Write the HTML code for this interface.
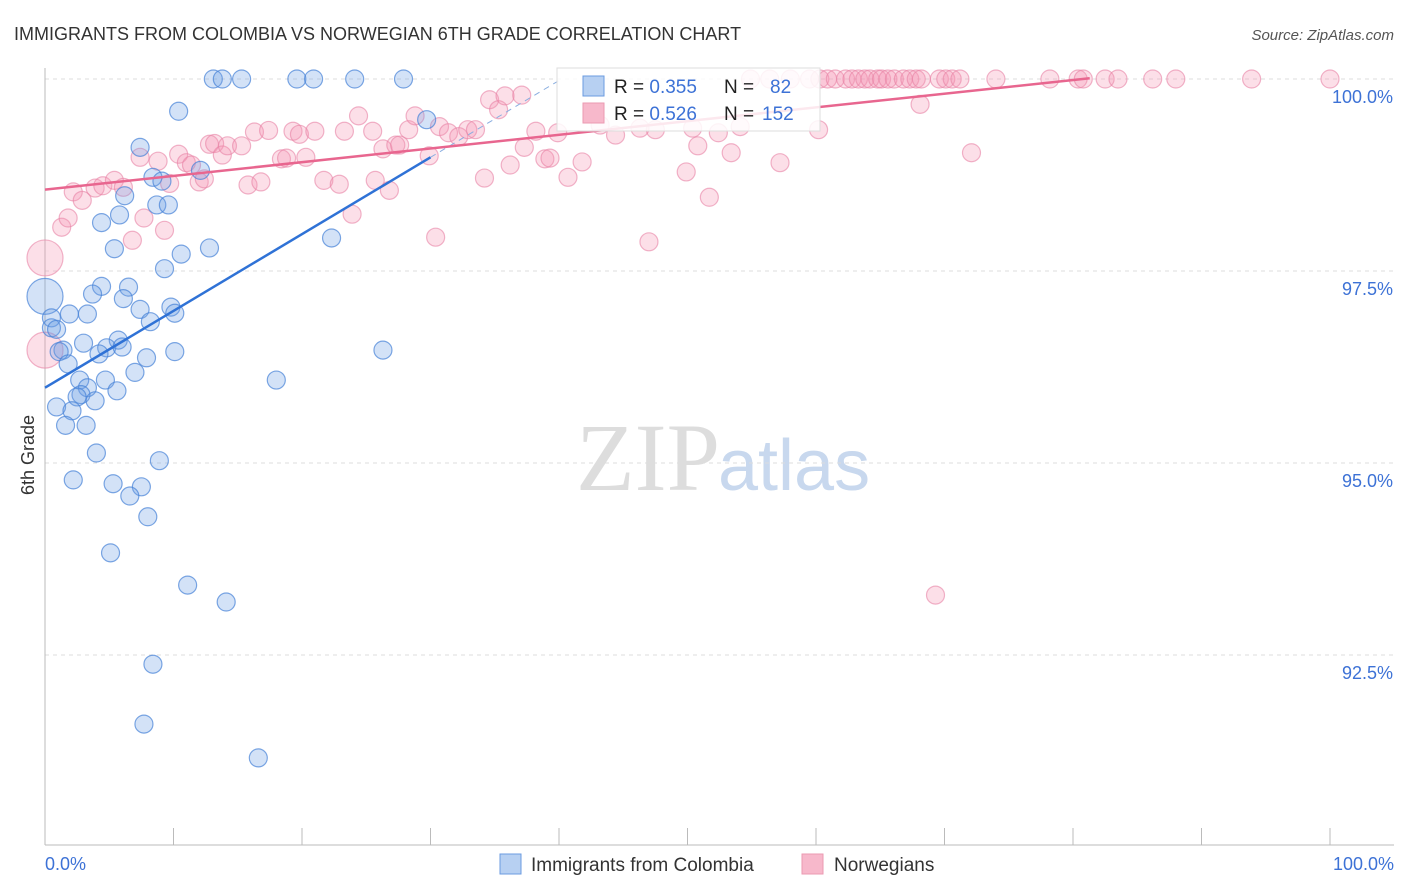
<!DOCTYPE html>
<html><head><meta charset="utf-8"><style>
body{margin:0;background:#fff;font-family:"Liberation Sans",sans-serif;}
svg{display:block}
</style></head><body>
<svg id="c" width="1406" height="892" viewBox="0 0 1406 892">
<text x="14" y="40" font-size="18" fill="#333">IMMIGRANTS FROM COLOMBIA VS NORWEGIAN 6TH GRADE CORRELATION CHART</text>
<text x="1394" y="40" font-size="15" fill="#555" font-style="italic" text-anchor="end">Source: ZipAtlas.com</text>
<text x="720" y="490" font-size="96" fill="#ddd" text-anchor="end" font-family="Liberation Serif">ZIP</text>
<text x="718" y="490" font-size="72" fill="#c8d8ee">atlas</text>
<text transform="translate(34,455) rotate(-90)" font-size="18" fill="#333" text-anchor="middle">6th Grade</text>
<g id="grid"></g><g id="pts"></g><g id="lines"></g>
<g>
<rect x="557" y="68" width="263" height="63" fill="#fff" fill-opacity="0.85" stroke="#ddd"/>
<rect x="583" y="76" width="21" height="20" fill="#b7d0f2" stroke="#6b9be0"/>
<rect x="583" y="103" width="21" height="20" fill="#f7b8cb" stroke="#eb9ab2"/>
<text x="614" y="93" font-size="19" fill="#222">R = <tspan fill="#3d72d6">0.355</tspan><tspan x="724">N = </tspan><tspan x="770" fill="#3d72d6">82</tspan></text>
<text x="614" y="120" font-size="19" fill="#222">R = <tspan fill="#3d72d6">0.526</tspan><tspan x="724">N = </tspan><tspan x="762" fill="#3d72d6">152</tspan></text>
</g>
<g>
<rect x="500" y="854" width="21" height="20" fill="#b7d0f2" stroke="#6b9be0"/>
<text x="531" y="871" font-size="19" fill="#333">Immigrants from Colombia</text>
<rect x="802" y="854" width="21" height="20" fill="#f7b8cb" stroke="#eb9ab2"/>
<text x="834" y="871" font-size="19" fill="#333">Norwegians</text>
</g>
<text x="45" y="870" font-size="18" fill="#3d72d6">0.0%</text>
<text x="1394" y="870" font-size="18" fill="#3d72d6" text-anchor="end">100.0%</text>
</svg>
<script>
const yTicks=[100,97.5,95,92.5];
const yTickLabels=["100.0%","97.5%","95.0%","92.5%"];
const blueX=[13.1,13.8,15.3,19.6,20.9,24.1,27.9,10.4,7.4,29.7,8.4,9.1,12.1,6.2,8.7,9.6,5.8,4.4,22.3,5.4,12.8,10.6,9.3,4.4,6.5,3.7,6.1,0,7.4,9.8,10.1,3.3,1.9,0.5,0.5,0.9,8.2,5.7,3.0,1.4,4.8,6.0,1.1,4.2,7.9,10.1,26.3,1.8,2.7,7.0,4.7,18.0,5.6,3.3,2.8,2.5,3.9,0.9,2.1,1.6,3.2,4.0,8.9,2.2,5.3,7.5,6.6,8.0,5.1,11.1,14.1,8.4,7.7,16.6];
const blueY=[100,100,100,100,100,100,100,99.58,99.11,99.47,98.72,98.67,98.81,98.48,98.36,98.36,98.23,98.13,97.93,97.79,97.80,97.72,97.53,97.30,97.29,97.20,97.14,97.17,97.0,97.03,96.95,96.94,96.94,96.89,96.76,96.74,96.84,96.6,96.56,96.47,96.5,96.51,96.45,96.42,96.37,96.45,96.47,96.29,96.08,96.18,96.08,96.08,95.94,95.98,95.89,95.86,95.81,95.73,95.68,95.49,95.49,95.13,95.03,94.78,94.73,94.69,94.57,94.30,93.83,93.41,93.19,92.38,91.60,91.16];
const blueR=[9,9,9,9,9,9,9,9,9,9,9,9,9,9,9,9,9,9,9,9,9,9,9,9,9,9,9,18,9,9,9,9,9,9,9,9,9,9,9,9,9,9,9,9,9,9,9,9,9,9,9,9,9,9,9,9,9,9,9,9,9,9,9,9,9,9,9,9,9,9,9,9,9,9];
const pinkX=[0,0,1.3,1.8,2.2,2.9,3.9,4.5,5.4,6.1,6.8,7.4,7.7,8.8,9.3,9.7,10.4,11.0,11.4,12.0,12.4,12.8,13.2,13.8,14.2,15.3,15.8,16.3,16.8,17.4,18.4,18.8,19.3,19.8,20.3,21.0,21.7,22.9,23.3,23.9,24.4,25.5,25.7,26.3,26.8,27.3,27.6,28.3,28.8,29.9,30.4,30.7,31.4,32.2,32.9,33.5,34.2,34.6,35.3,35.8,36.2,37.1,37.3,38.2,38.9,39.3,39.9,40.7,41.8,43.2,44.4,46.3,47.0,47.5,49.9,50.4,50.8,51.7,52.4,53.4,54.1,57.2,60.2,68.1,72.1,69.3,54.9,56.4,58.0,59.5,60.3,60.9,61.5,62.3,62.8,63.3,63.8,64.2,64.8,65.1,65.6,66.1,66.8,67.3,67.8,68.2,69.6,70.1,70.6,71.2,74.0,78.2,80.4,80.8,82.5,83.5,86.2,88.0,93.9,100];
const pinkY=[97.67,96.47,98.07,98.19,98.53,98.42,98.58,98.61,98.68,98.59,97.90,98.98,98.19,98.93,98.03,98.64,99.02,98.91,98.88,98.66,98.70,99.15,99.16,99.01,99.13,99.13,98.62,99.31,98.66,99.33,98.96,98.97,99.32,99.28,98.98,99.32,98.68,98.63,99.32,98.24,99.52,99.32,98.68,99.09,98.55,99.14,99.14,99.34,99.52,99.0,97.94,99.38,99.30,99.25,99.34,99.34,98.71,99.73,99.6,99.78,98.88,99.79,99.11,99.32,98.96,98.97,99.30,98.72,98.92,99.40,99.27,99.36,97.88,99.34,98.79,99.36,99.13,98.46,99.30,99.04,99.38,98.91,99.34,99.67,99.04,93.28,100,100,100,100,100,100,100,100,100,100,100,100,100,100,100,100,100,100,100,100,100,100,100,100,100,100,100,100,100,100,100,100,100,100];
const blueLineX=[0,30], blueLineY=[95.98,98.98];
const pinkLineX=[0,81.3], pinkLineY=[98.56,100.01];
const NS="http://www.w3.org/2000/svg";
const X=v=>45+v*12.85, Y=v=>79+(100-v)*76.8;
function mk(t,a,p){const e=document.createElementNS(NS,t);for(const k in a)e.setAttribute(k,a[k]);p.appendChild(e);return e;}
const g=document.getElementById('grid');
yTicks.forEach((t,i)=>{
 const l=mk('line',{x1:45,x2:1394,y1:Y(t),y2:Y(t),stroke:'#ddd','stroke-dasharray':'4,4'},g);
 
 
 const tx=mk('text',{x:1393,y:Y(t)+24,'font-size':18,fill:'#3d72d6','text-anchor':'end'},g);
 tx.textContent=yTickLabels[i];
 
 
});
const ax=mk('line',{x1:45,x2:45,y1:68,y2:845,stroke:'#bbb'},g);


const bx=mk('line',{x1:45,x2:1394,y1:845,y2:845,stroke:'#bbb'},g);


for(let i=0;i<=10;i++){
 const t=mk('line',{x1:X(i*10),x2:X(i*10),y1:828,y2:845,stroke:'#bbb'},g);
 
 
}
const pg=document.getElementById('pts');
pinkX.forEach((v,i)=>{
 const r=(i<2)?18:9;
 const c=mk('circle',{cx:X(v),cy:Y(pinkY[i]),r:r,fill:'rgba(244,150,180,0.3)',stroke:'rgba(232,130,165,0.6)','stroke-width':1.2},pg);
 
 
});
blueX.forEach((v,i)=>{
 const c=mk('circle',{cx:X(v),cy:Y(blueY[i]),r:blueR[i],fill:'rgba(110,160,230,0.3)',stroke:'rgba(70,130,215,0.7)','stroke-width':1.2},pg);
 
 
});
const lg=document.getElementById('lines');
const sl=(blueLineY[1]-blueLineY[0])/(blueLineX[1]-blueLineX[0]);
const xe=blueLineX[0]+(100-blueLineY[0])/sl;
const d=mk('line',{x1:X(blueLineX[1]),y1:Y(blueLineY[1]),x2:X(xe),y2:Y(100),stroke:'#8aaee0','stroke-width':1,'stroke-dasharray':'6,5'},lg);


const bl=mk('line',{x1:X(blueLineX[0]),y1:Y(blueLineY[0]),x2:X(blueLineX[1]),y2:Y(blueLineY[1]),stroke:'#2f72d6','stroke-width':2.5},lg);


const pl=mk('line',{x1:X(pinkLineX[0]),y1:Y(pinkLineY[0]),x2:X(pinkLineX[1]),y2:Y(pinkLineY[1]),stroke:'#e8668f','stroke-width':2.5},lg);


</script>
</body></html>
